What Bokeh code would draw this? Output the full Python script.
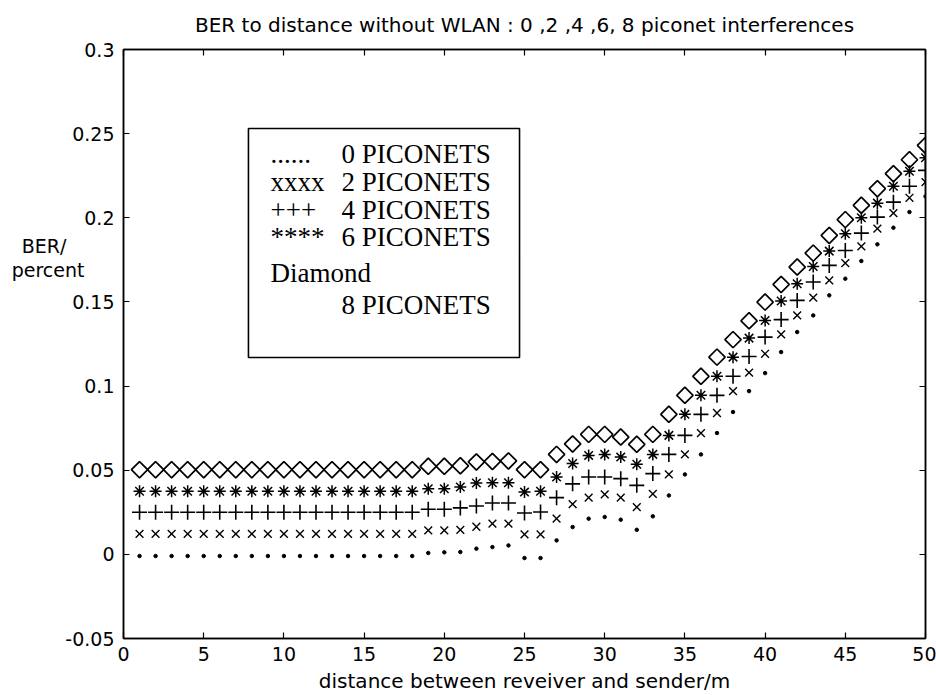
import numpy as np
from bokeh.plotting import figure
from bokeh.models import (LinearAxis, FixedTicker, CustomJSTickFormatter,
                          BoxAnnotation, Label, Range1d)
from bokeh.embed import file_html
from bokeh.resources import INLINE

# distance between receiver and sender (m)
distance = list(range(1, 51))

# BER for 0, 2, 4, 6 and 8 interfering piconets
ber_0 = [-0.001, -0.001, -0.001, -0.001, -0.001, -0.001, -0.001, -0.001, -0.001, -0.001,
         -0.001, -0.001, -0.001, -0.001, -0.001, -0.001, -0.001, -0.001, 0.0008, 0.0012,
         0.0014, 0.0034, 0.0043, 0.0053, -0.0022, -0.0022, 0.0083, 0.0162, 0.0212, 0.0222,
         0.0206, 0.0146, 0.0226, 0.0350, 0.0475, 0.0594, 0.0721, 0.0846, 0.0970, 0.1077,
         0.1202, 0.1321, 0.1420, 0.1539, 0.1638, 0.1743, 0.1842, 0.1941, 0.2034, 0.2127]
ber_2 = [0.0122, 0.0122, 0.0122, 0.0122, 0.0122, 0.0122, 0.0122, 0.0122, 0.0122, 0.0122,
         0.0122, 0.0122, 0.0122, 0.0122, 0.0122, 0.0122, 0.0122, 0.0122, 0.0142, 0.0142,
         0.0145, 0.0164, 0.0182, 0.0182, 0.0119, 0.0119, 0.0212, 0.0299, 0.0337, 0.0357,
         0.0337, 0.0281, 0.0360, 0.0475, 0.0594, 0.0721, 0.0840, 0.0970, 0.1080, 0.1192,
         0.1307, 0.1420, 0.1525, 0.1628, 0.1731, 0.1830, 0.1935, 0.2028, 0.2119, 0.2212]
ber_4 = [0.0250, 0.0250, 0.0250, 0.0250, 0.0250, 0.0250, 0.0250, 0.0250, 0.0250, 0.0250,
         0.0250, 0.0250, 0.0250, 0.0250, 0.0250, 0.0250, 0.0250, 0.0250, 0.0268, 0.0268,
         0.0276, 0.0287, 0.0305, 0.0305, 0.0246, 0.0252, 0.0337, 0.0419, 0.0460, 0.0460,
         0.0450, 0.0410, 0.0480, 0.0594, 0.0707, 0.0832, 0.0945, 0.1058, 0.1176, 0.1291,
         0.1395, 0.1509, 0.1618, 0.1717, 0.1806, 0.1909, 0.2004, 0.2093, 0.2187, 0.2282]
ber_6 = [0.0375, 0.0375, 0.0375, 0.0375, 0.0375, 0.0375, 0.0375, 0.0375, 0.0375, 0.0375,
         0.0375, 0.0375, 0.0375, 0.0375, 0.0375, 0.0375, 0.0375, 0.0375, 0.0390, 0.0390,
         0.0400, 0.0424, 0.0426, 0.0426, 0.0370, 0.0375, 0.0460, 0.0540, 0.0588, 0.0594,
         0.0578, 0.0535, 0.0594, 0.0707, 0.0832, 0.0945, 0.1058, 0.1172, 0.1285, 0.1390,
         0.1505, 0.1608, 0.1711, 0.1802, 0.1905, 0.2000, 0.2087, 0.2187, 0.2277, 0.2357]
ber_8 = [0.0503, 0.0503, 0.0503, 0.0503, 0.0503, 0.0503, 0.0503, 0.0503, 0.0503, 0.0503,
         0.0503, 0.0503, 0.0503, 0.0503, 0.0503, 0.0503, 0.0503, 0.0503, 0.0523, 0.0523,
         0.0526, 0.0549, 0.0552, 0.0555, 0.0503, 0.0503, 0.0594, 0.0656, 0.0713, 0.0713,
         0.0697, 0.0654, 0.0713, 0.0832, 0.0945, 0.1058, 0.1172, 0.1276, 0.1388, 0.1499,
         0.1604, 0.1707, 0.1790, 0.1895, 0.1989, 0.2074, 0.2173, 0.2262, 0.2345, 0.2430]

x_ticks = [0, 5, 10, 15, 20, 25, 30, 35, 40, 45, 50]
y_ticks = [-0.05, 0, 0.05, 0.1, 0.15, 0.2, 0.25, 0.3]

legend_marks = ["......", "xxxx", "+++", "****", "Diamond"]
legend_names = ["0 PICONETS", "2 PICONETS", "4 PICONETS", "6 PICONETS", "8 PICONETS"]

# two-line horizontal caption of the BER axis
y_caption = ["BER/\u00a0\u00a0\u00a0", "percent"]
y_caption_at = [0.1830, 0.1690]

SANS = "DejaVu Sans"
SERIF = "Liberation Serif"
SANS_SIZE = "19px"

p = figure(width=936, height=695, output_backend="svg", toolbar_location=None,
           x_range=Range1d(0, 50), y_range=Range1d(-0.05, 0.3),
           min_border_left=123, min_border_right=11,
           min_border_top=49, min_border_bottom=57,
           title="BER to distance without WLAN : 0 ,2 ,4 ,6, 8 piconet interferences")
p.background_fill_color = "white"
p.border_fill_color = "white"
p.grid.visible = False
p.outline_line_color = "black"
p.outline_line_width = 1.5

p.title.align = "center"
p.title.vertical_align = "top"
p.title.text_font = SANS
p.title.text_font_size = "20px"
p.title.text_font_style = "normal"
p.title.text_color = "black"
p.title.standoff = 22

fmt = CustomJSTickFormatter(code="return tick.toString();")


def style_axis(ax, ticks, show_labels):
    ax.ticker = FixedTicker(ticks=ticks)
    ax.formatter = fmt
    ax.axis_line_color = "black"
    ax.axis_line_width = 1.5
    ax.major_tick_in = 6
    ax.major_tick_out = 0
    ax.major_tick_line_width = 1.2
    ax.minor_tick_line_color = None
    ax.major_label_text_font = SANS
    ax.major_label_text_font_size = SANS_SIZE
    ax.major_label_text_color = "black" if show_labels else None
    ax.major_label_standoff = 9


style_axis(p.xaxis[0], x_ticks, True)
style_axis(p.yaxis[0], y_ticks, True)
p.xaxis[0].major_label_standoff = 8

p.xaxis[0].axis_label = "distance between reveiver and sender/m"
p.xaxis[0].axis_label_text_font = SANS
p.xaxis[0].axis_label_text_font_size = "20px"
p.xaxis[0].axis_label_text_font_style = "normal"
p.xaxis[0].axis_label_text_color = "black"
p.xaxis[0].axis_label_standoff = 5

top_axis = LinearAxis()
right_axis = LinearAxis()
style_axis(top_axis, x_ticks, False)
style_axis(right_axis, y_ticks, False)
top_axis.major_label_text_font_size = "0px"
right_axis.major_label_text_font_size = "0px"
top_axis.major_label_standoff = 0
right_axis.major_label_standoff = 0
p.add_layout(top_axis, "above")
p.add_layout(right_axis, "right")

# caption axis: a bare axis further left that only carries the caption lines
cap_axis = LinearAxis(
    ticker=FixedTicker(ticks=y_caption_at),
    formatter=CustomJSTickFormatter(args=dict(names=y_caption, at=y_caption_at),
                                    code="return tick > (at[0] + at[1]) / 2 ? names[0] : names[1];"),
    axis_line_color=None, major_tick_line_color=None, minor_tick_line_color=None,
    major_label_text_font=SANS, major_label_text_font_size=SANS_SIZE,
    major_label_text_color="black", major_label_standoff=-28)
p.add_layout(cap_axis, "left")

# the five BER series
p.scatter(distance, ber_0, marker="circle", size=3.5, color="black")
p.scatter(distance, ber_2, marker="x", size=11, line_color="black", line_width=1.4)
p.scatter(distance, ber_4, marker="cross", size=15, line_color="black", line_width=1.6)
p.scatter(distance, ber_6, marker="asterisk", size=12, line_color="black", line_width=1.5)
p.scatter(distance, ber_8, marker="square", angle=np.pi / 4, size=11.5,
          fill_color=None, line_color="black", line_width=1.7)

# hand-written key in a framed box
p.add_layout(BoxAnnotation(left=7.79, right=24.69, top=0.2531, bottom=0.117,
                           fill_color="white", fill_alpha=1.0,
                           line_color="black", line_alpha=1.0, line_width=1.6))

mark_rows = [0.2377, 0.2210, 0.2044, 0.1883, 0.1670]
name_rows = [0.2377, 0.2210, 0.2044, 0.1883, 0.1480]
for txt, yy in zip(legend_marks, mark_rows):
    p.add_layout(Label(x=9.16, y=yy, text=txt, text_font=SERIF, text_font_size="27px",
                       text_color="black", text_align="left", text_baseline="alphabetic"))
for txt, yy in zip(legend_names, name_rows):
    p.add_layout(Label(x=13.59, y=yy, text=txt, text_font=SERIF, text_font_size="27px",
                       text_color="black", text_align="left", text_baseline="alphabetic"))

open("out.html", "w").write(file_html(p, INLINE))
